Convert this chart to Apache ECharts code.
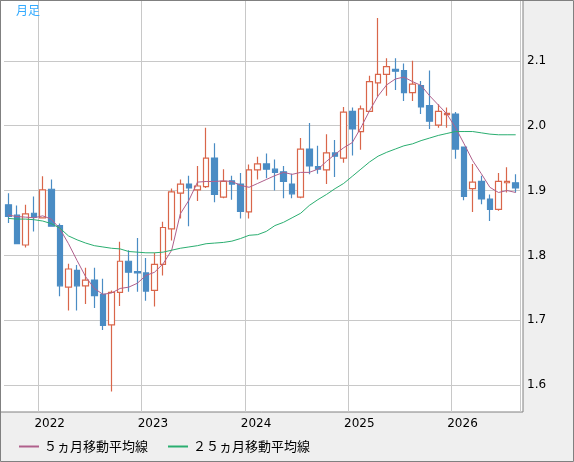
<!DOCTYPE html>
<html><head><meta charset="utf-8">
<script src="https://cdn.jsdelivr.net/npm/echarts@6/dist/echarts.min.js"></script>
<style>html,body{margin:0;padding:0;background:#efefef}#c{width:574px;height:462px}</style>
</head><body><div id="c"></div>
<script>
const months = [];
for (let y = 2021, m = 9; months.length < 60; ) { months.push(y + '-' + String(m).padStart(2,'0')); m++; if (m > 12) { m = 1; y++; } }
// [open, close, low, high]
const opens  = [1.878,1.862,1.816,1.865,1.858,1.902,1.846,1.751,1.777,1.753,1.762,1.740,1.693,1.743,1.791,1.775,1.773,1.746,1.786,1.841,1.896,1.910,1.901,1.906,1.950,1.890,1.915,1.910,1.867,1.932,1.941,1.933,1.929,1.910,1.890,1.964,1.937,1.932,1.958,1.950,2.022,1.991,2.022,2.066,2.079,2.087,2.085,2.051,2.062,2.031,2.001,2.017,2.018,1.967,1.903,1.914,1.887,1.871,1.912,1.912];
const closes = [1.860,1.818,1.864,1.859,1.901,1.845,1.753,1.779,1.753,1.762,1.738,1.692,1.743,1.791,1.774,1.773,1.745,1.786,1.843,1.898,1.910,1.904,1.907,1.950,1.894,1.914,1.910,1.868,1.932,1.941,1.933,1.928,1.914,1.895,1.964,1.938,1.933,1.958,1.953,2.021,1.995,2.026,2.068,2.079,2.091,2.084,2.051,2.064,2.029,2.007,2.022,2.019,1.964,1.891,1.913,1.887,1.871,1.914,1.914,1.904];
const lows   = [1.850,1.818,1.812,1.837,1.858,1.844,1.737,1.715,1.715,1.725,1.719,1.685,1.590,1.722,1.744,1.744,1.730,1.721,1.769,1.823,1.857,1.845,1.884,1.904,1.882,1.888,1.886,1.857,1.857,1.917,1.919,1.900,1.888,1.888,1.888,1.925,1.926,1.910,1.921,1.943,1.954,1.963,2.022,2.045,2.046,2.055,2.038,2.038,2.018,1.995,1.997,1.997,1.949,1.885,1.867,1.879,1.853,1.869,1.897,1.897];
const highs  = [1.896,1.877,1.878,1.891,1.922,1.917,1.849,1.787,1.785,1.781,1.781,1.764,1.746,1.821,1.808,1.827,1.796,1.804,1.852,1.903,1.917,1.923,1.938,1.997,1.973,1.933,1.923,1.927,1.940,1.952,1.957,1.948,1.938,1.926,1.981,2.004,1.969,1.987,1.978,2.029,2.028,2.031,2.077,2.166,2.104,2.104,2.096,2.100,2.069,2.085,2.033,2.028,2.021,1.967,1.941,1.923,1.894,1.927,1.936,1.925];
const ma5  = [1.862,1.860,1.859,1.858,1.861,1.856,1.841,1.818,1.792,1.767,1.749,1.740,1.742,1.749,1.751,1.757,1.769,1.774,1.787,1.808,1.864,1.885,1.913,1.914,1.914,1.915,1.914,1.908,1.905,1.911,1.917,1.923,1.928,1.925,1.928,1.928,1.933,1.945,1.956,1.966,1.974,1.997,2.023,2.046,2.063,2.072,2.075,2.068,2.062,2.046,2.032,2.018,1.997,1.972,1.946,1.926,1.905,1.897,1.900,1.897];
const ma25 = [1.857,1.856,1.856,1.855,1.853,1.849,1.842,1.830,1.824,1.819,1.815,1.813,1.811,1.810,1.806,1.805,1.804,1.804,1.805,1.808,1.811,1.813,1.815,1.818,1.819,1.820,1.822,1.826,1.831,1.832,1.837,1.846,1.851,1.858,1.865,1.877,1.886,1.894,1.903,1.911,1.922,1.933,1.944,1.953,1.959,1.964,1.969,1.972,1.977,1.981,1.985,1.988,1.991,1.991,1.991,1.989,1.987,1.986,1.986,1.986];
const yTicks = [1.6,1.7,1.8,1.9,2.0,2.1];
const ma5Name = '５ヵ月移動平均線', ma25Name = '２５ヵ月移動平均線';

const ohlc = opens.map((o,i)=>[o, closes[i], lows[i], highs[i]]);
const isJan = (i)=> months[i].endsWith('-01');
const chart = echarts.init(document.getElementById('c'));
const F = '"DejaVu Sans", sans-serif';
chart.setOption({
  animation:false,
  backgroundColor:'#efefef',
  textStyle:{fontFamily:F},
  graphic:[
    {type:'rect', shape:{x:0.5,y:0.5,width:573,height:461}, style:{fill:'none', stroke:'#808080', lineWidth:1}, z:100},
    {type:'rect', shape:{x:0.5,y:0.5,width:522.5,height:411.5}, style:{fill:'#fff', stroke:'#808080', lineWidth:1}, z:-10},
    {type:'text', left:16, top:4, style:{text:'月足', fill:'#33aaff', font:'12px "Noto Sans CJK JP"'}, z:100}
  ],
  legend:{left:14, bottom:4, itemWidth:20, itemHeight:2, itemGap:20, icon:'rect',
    textStyle:{fontSize:13, color:'#000', fontFamily:'"Noto Sans CJK JP"'},
    data:[{name:ma5Name},{name:ma25Name}]},
  grid:{left:4, right:54, top:1, bottom:50, show:false},
  xAxis:{type:'category', data:months, boundaryGap:true,
    axisLine:{show:false}, axisTick:{show:false},
    axisLabel:{interval:(i)=>isJan(i), formatter:(v)=>v.slice(0,4), color:'#000', fontSize:12, margin:6, padding:[0,0,0,14]},
    splitLine:{show:true, interval:(i)=>isJan(i), lineStyle:{color:'#c8c8c8'}}},
  yAxis:{type:'value', position:'right', min:1.5585, max:2.1923, scale:true,
    axisLine:{show:false}, axisTick:{show:false, customValues:yTicks},
    axisLabel:{customValues:yTicks, color:'#000', fontSize:12, margin:7, formatter:(v)=>v.toFixed(1)},
    splitLine:{show:true, lineStyle:{color:'#c8c8c8'}}},
  series:[
    {type:'candlestick', data:ohlc, barWidth:6,
      itemStyle:{color:'#ffffff', color0:'#4a8cc4', borderColor:'#d9664a', borderColor0:'#4a8cc4', borderWidth:1.2}},
    {name:ma5Name, type:'line', data:ma5, symbol:'none', lineStyle:{color:'#b0608c', width:1}, itemStyle:{color:'#b0608c'}},
    {name:ma25Name, type:'line', data:ma25, symbol:'none', lineStyle:{color:'#2aae70', width:1}, itemStyle:{color:'#2aae70'}}
  ]
});
</script></body></html>
